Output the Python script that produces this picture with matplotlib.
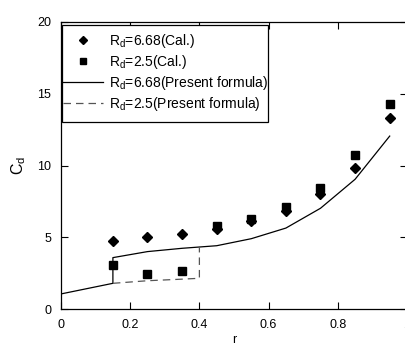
import matplotlib
matplotlib.use("Agg")
import matplotlib.pyplot as plt
from matplotlib.patches import Rectangle

plt.rcParams['font.family'] = ['Liberation Sans', 'DejaVu Sans']
plt.rcParams['mathtext.fontset'] = 'custom'
plt.rcParams['mathtext.rm'] = 'Liberation Sans'
plt.rcParams['mathtext.it'] = 'Liberation Sans'

r_cal = [0.15, 0.25, 0.35, 0.45, 0.55, 0.65, 0.75, 0.85, 0.95]
cd_668_cal = [4.76, 5.0, 5.2, 5.6, 6.13, 6.85, 8.0, 9.85, 13.3]
cd_25_cal = [3.1, 2.44, 2.65, 5.75, 6.27, 7.1, 8.4, 10.7, 14.3]

r_668_f = [0.0, 0.15, 0.15, 0.25, 0.35, 0.45, 0.55, 0.65, 0.75, 0.85, 0.95]
cd_668_f = [1.05, 1.79, 3.58, 4.0, 4.23, 4.41, 4.9, 5.64, 7.02, 9.04, 12.05]

r_25_f = [0.15, 0.25, 0.35, 0.4, 0.4]
cd_25_f = [1.79, 1.97, 2.08, 2.14, 4.34]

xtick_vals = [0, 0.2, 0.4, 0.6, 0.8, 1.0]
xtick_labels = ['0', '0.2', '0.4', '0.6', '0.8', '1']
ytick_vals = [0, 5, 10, 15, 20]

W, H = 406, 345
fig = plt.figure(figsize=(W/100, H/100), dpi=100)
ax = fig.add_axes([61/W, (H-309)/H, (407-61)/W, (309-22)/H])

ax.plot(r_cal, cd_668_cal, 'D', color='black', markersize=5.2, linestyle='none',
        label=r'R$_{\mathregular{d}}$=6.68(Cal.)')
ax.plot(r_cal, cd_25_cal, 's', color='black', markersize=5.5, linestyle='none',
        label=r'R$_{\mathregular{d}}$=2.5(Cal.)')
ax.plot(r_668_f, cd_668_f, '-', color='black', lw=0.9,
        label=r'R$_{\mathregular{d}}$=6.68(Present formula)')
ax.plot(r_25_f, cd_25_f, color='#555555', lw=0.9, linestyle=(0, (6, 4)),
        label=r'R$_{\mathregular{d}}$=2.5(Present formula)')

ax.set_xlim(0, 1)
ax.set_ylim(0, 20)
ax.set_xticks(xtick_vals)
ax.set_xticklabels(xtick_labels)
ax.set_yticks(ytick_vals)
ax.tick_params(direction='in', top=True, right=True, labelsize=9, length=5, width=0.8)
ax.tick_params(axis='x', pad=7.5)
ax.tick_params(axis='y', pad=7)
for s in ax.spines.values():
    s.set_linewidth(0.9)

ax.set_ylabel(r'C$_{\mathregular{d}}$', fontsize=11.5, labelpad=7)
ax.set_xlabel('r', fontsize=9, labelpad=2)

# legend frame box
ax.add_patch(Rectangle((0.003, 0.6516), 0.595, 0.3379, transform=ax.transAxes,
                       fill=True, facecolor='white', edgecolor='black', lw=0.9,
                       zorder=4, clip_on=False))
leg = ax.legend(loc='upper left', bbox_to_anchor=(0.006, 0.965), borderaxespad=0,
                fontsize=10, frameon=False, handlelength=2.9, handletextpad=0.4,
                labelspacing=0.22, borderpad=0, numpoints=1, markerscale=0.75)
leg.set_zorder(5)

fig.savefig('out.png', dpi=100)
